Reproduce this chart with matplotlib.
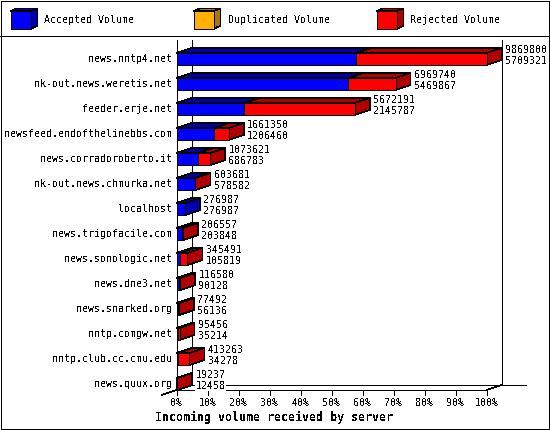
import matplotlib
matplotlib.use('Agg')
import matplotlib.pyplot as plt
from matplotlib.patches import Polygon, Rectangle

servers = ['news.nntp4.net', 'nk-out.news.weretis.net', 'feeder.erje.net',
           'newsfeed.endofthelinebbs.com', 'news.corradoroberto.it',
           'nk-out.news.chmurka.net', 'localhost', 'news.trigofacile.com',
           'news.sonologic.net', 'news.dne3.net', 'news.snarked.org',
           'nntp.comgw.net', 'nntp.club.cc.cmu.edu', 'news.quux.org']
total_volume = [9869800, 6969740, 5672191, 1661350, 1073621, 603681, 276987,
                206557, 345491, 116580, 77492, 95456, 413263, 19237]
accepted_volume = [5709321, 5469867, 2145787, 1206460, 686783, 578582, 276987,
                   203848, 105819, 90128, 56136, 35214, 34278, 12458]
legend_names = ['Accepted Volume', 'Duplicated Volume', 'Rejected Volume']
pct_ticks = [0, 10, 20, 30, 40, 50, 60, 70, 80, 90, 100]
xlabel = 'Incoming volume received by server'

BLUE = ('#0000ff', '#0000b0')
ORANGE = ('#ffb000', '#a87800')
RED = ('#ff0000', '#b00000')

# pixel layout of the plot
X0, PX_PCT = 176.5, 3.102
Y0, PX_ROW = 59.0, 25.0
DX, DY = 15.0, 5.0
BAR_H = 12.0
LW = 0.5
FS = 7.2

MONO = 'DejaVu Sans Mono'
plt.rcParams['text.antialiased'] = False
plt.rcParams['font.family'] = MONO

fig = plt.figure(figsize=(5.5, 4.3), dpi=100)

# full figure axes in pixels, used for frame, legend and the bars
ax = fig.add_axes([0, 0, 1, 1])
ax.set_xlim(0, 550)
ax.set_ylim(430, 0)
ax.axis('off')


def xp(pct):
    return X0 + pct * PX_PCT


def yp(row):
    return Y0 + row * PX_ROW


def line(xs, ys, z=1):
    ax.plot(xs, ys, color='black', lw=LW, antialiased=False, zorder=z,
            solid_capstyle='butt')


def box3d(x1, x2, ytop, ybot, dx, dy, cols, z=3):
    # front, top and side faces of one bar segment
    ax.add_patch(Polygon([(x1, ytop), (x1 + dx, ytop - dy), (x2 + dx, ytop - dy), (x2, ytop)],
                         fc=cols[1], ec='black', lw=LW, antialiased=False, zorder=z))
    ax.add_patch(Polygon([(x2, ytop), (x2 + dx, ytop - dy), (x2 + dx, ybot - dy), (x2, ybot)],
                         fc=cols[1], ec='black', lw=LW, antialiased=False, zorder=z))
    ax.add_patch(Rectangle((x1, ytop), x2 - x1, ybot - ytop,
                           fc=cols[0], ec='black', lw=LW, antialiased=False, zorder=z))


# frame and legend
line([0.5, 548.5, 548.5, 0.5, 0.5], [0.5, 0.5, 428.5, 428.5, 0.5], z=6)
line([0, 549], [35.5, 35.5])
legend_x = [10.5, 193.5, 376.5]
for x, name, cols in zip(legend_x, legend_names, [BLUE, ORANGE, RED]):
    box3d(x, x + 20.5, 11, 28.5, 6.5, 2.5, cols)
    ax.text(x + 34, 20, name, fontsize=FS, ha='left', va='center')

# axis walls
bottom = yp(len(servers) - 1) + BAR_H / 2
line([xp(0), xp(0)], [40, bottom])
line([xp(0) + DX, xp(0) + DX], [40, bottom - DY])
line([xp(100) + DX, xp(100) + DX], [40, bottom - DY])
line([xp(0) + DX, 525.5], [bottom - DY, bottom - DY])
line([xp(0), xp(100)], [bottom, bottom])
line([xp(0) - DX, xp(0) + DX], [bottom + DY, bottom - DY])
line([xp(100), xp(100) + DX], [bottom, bottom - DY])

for t in pct_ticks:
    line([xp(t), xp(t)], [bottom, bottom + 5])
    ax.text(xp(t), bottom + 13, '%d%%' % t, fontsize=FS, ha='center', va='center')

ax.text(274, 417, xlabel, fontsize=8.4, fontweight='bold', ha='center', va='center')

# bars
top_val = max(total_volume)
for i, (name, tot, acc) in enumerate(zip(servers, total_volume, accepted_volume)):
    y = yp(i)
    acc_pct = 100.0 * acc / top_val
    tot_pct = 100.0 * tot / top_val
    ytop, ybot = y - BAR_H / 2, y + BAR_H / 2
    box3d(xp(0), xp(acc_pct), ytop, ybot, DX, DY, BLUE, z=3)
    if tot > acc:
        box3d(xp(acc_pct), xp(tot_pct), ytop, ybot, DX, DY, RED, z=4)
    ax.text(172, y, name, fontsize=FS, ha='right', va='center', zorder=5)
    lx = xp(tot_pct) + DX + 3.5
    for yy, val in ((y - 9, tot), (y + 2, acc)):
        ax.text(lx, yy, str(val), fontsize=FS, ha='left', va='center', zorder=5,
                bbox=dict(fc='white', ec='none', pad=0.3))

plt.savefig('out.png', dpi=100)
